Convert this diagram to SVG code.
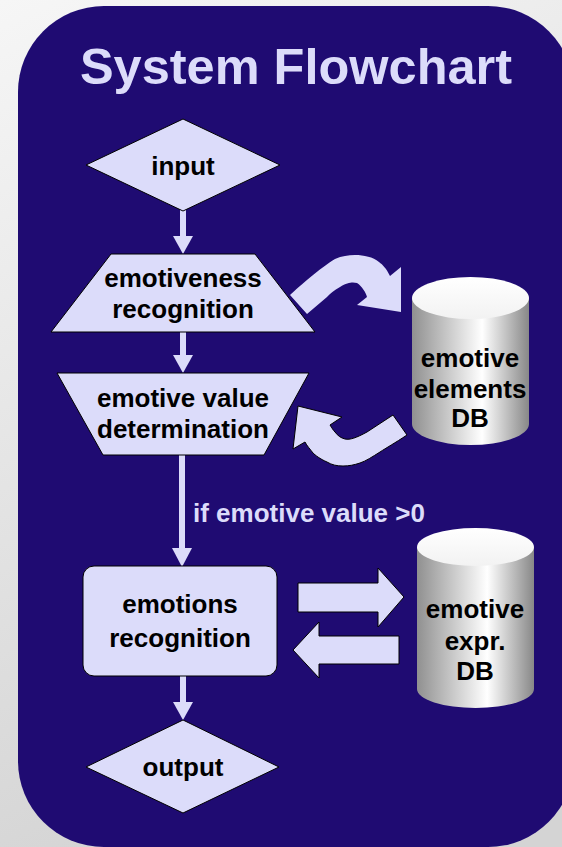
<svg xmlns="http://www.w3.org/2000/svg" width="562" height="847" viewBox="0 0 562 847">
<defs>
<linearGradient id="bg" x1="0" y1="0" x2="0.3" y2="1">
<stop offset="0" stop-color="#f6f6f6"/>
<stop offset="1" stop-color="#d4d4d4"/>
</linearGradient>
<linearGradient id="cyl" x1="0" y1="0" x2="1" y2="0">
<stop offset="0" stop-color="#909090"/>
<stop offset="0.6" stop-color="#ffffff"/>
<stop offset="1" stop-color="#888888"/>
</linearGradient>
<linearGradient id="cap" x1="0" y1="0" x2="0" y2="1">
<stop offset="0" stop-color="#ffffff"/>
<stop offset="1" stop-color="#f2f2f2"/>
</linearGradient>
</defs>
<style>
.shape{fill:#dcdcfa;stroke:#000;stroke-width:1}
.conn{fill:#dcdcfa}
.conno{fill:#dcdcfa;stroke:#000;stroke-width:1}
.t{font-family:"Liberation Sans",Arial,sans-serif;font-weight:bold;font-size:26px;fill:#000;text-anchor:middle}
.lbl{font-family:"Liberation Sans",Arial,sans-serif;font-weight:bold;font-size:26px;fill:#dcdcfa}
.title{font-family:"Liberation Sans",Arial,sans-serif;font-weight:bold;font-size:50.5px;fill:#dcdcfa;text-anchor:middle}
.cylbody{fill:url(#cyl)}
.cylcap{fill:url(#cap)}
</style>
<rect x="0" y="0" width="562" height="847" fill="url(#bg)"/>
<rect x="18" y="6" width="556" height="841" rx="86" ry="86" fill="#1f0b72"/>
<text class="title" x="296" y="84">System Flowchart</text>

<g id="connectors">
<rect class="conn" x="180" y="210" width="6" height="27"/>
<polygon class="conn" points="173,236 193,236 183,254"/>
<rect class="conn" x="180" y="331" width="6" height="25"/>
<polygon class="conn" points="173,355 193,355 183,373"/>
<rect class="conn" x="179" y="454" width="6" height="95"/>
<polygon class="conn" points="172,548 192,548 182,567"/>
<rect class="conn" x="180" y="675" width="6" height="28"/>
<polygon class="conn" points="173,702 193,702 183,720"/>
<text class="lbl" x="193" y="522">if emotive value &gt;0</text>
<path class="conn" d="M290 295 C300 286 320 268 335 259 C342 256 348 255 355 255 C364 255 373 257 379 262 C383 265 386 268 390 276 L401 267 L401 312 L357 305 L367 297 C366 293 362 286 357 283 C353 282 348 282 340 287 C334 290 330 294 327 297 L307 314 Z"/>
<path class="conno" d="M393 415 L407 435 C395 443 386 448 380 452 C372 457 366 461 360 463 C354 465 349 466 343 466 C337 466 332 465 327 462 C320 459 315 455 313 453 C310 449 307 446 305 442 L293 449 L298 406 L342 417 L330 425 C332 428 333 430 335 432 C338 436 341 438 345 439 C350 440 356 438 367 432 Z"/>
<path class="conno" d="M298 583 H378 V568 L404 597 L378 627 V612 H298 Z"/>
<path class="conno" d="M399 636 H319 V622 L293 650 L319 678 V664 H399 Z"/>
</g>

<g id="input">
<polygon class="shape" points="183,119 280,165 183,211 86,165"/>
<text class="t" x="183" y="175">input</text>
</g>
<g id="emotiveness-recognition">
<polygon class="shape" points="111,254 255,254 315,332 51,332"/>
<text class="t" x="183" y="287">emotiveness</text>
<text class="t" x="183" y="318">recognition</text>
</g>
<g id="emotive-value-determination">
<polygon class="shape" points="57,373 309,373 264,455 103,455"/>
<text class="t" x="183" y="407">emotive value</text>
<text class="t" x="183" y="438">determination</text>
</g>
<g id="emotions-recognition">
<rect class="shape" x="83" y="566" width="194" height="110" rx="11" ry="11"/>
<text class="t" x="180" y="613">emotions</text>
<text class="t" x="180" y="647">recognition</text>
</g>
<g id="output">
<polygon class="shape" points="183,720 279,767 183,813 86,767"/>
<text class="t" x="183" y="776">output</text>
</g>
<g id="emotive-elements-db">
<path class="cylbody" d="M412 298 V424 A58.5 21 0 0 0 529 424 V298 Z"/>
<ellipse class="cylcap" cx="470.5" cy="298" rx="58.5" ry="21"/>
<text class="t" x="470" y="367">emotive</text>
<text class="t" x="470" y="398">elements</text>
<text class="t" x="470" y="427">DB</text>
</g>
<g id="emotive-expr-db">
<path class="cylbody" d="M417 547 V689 A58.5 19 0 0 0 534 689 V547 Z"/>
<ellipse class="cylcap" cx="475.5" cy="547" rx="58.5" ry="19"/>
<text class="t" x="475" y="618">emotive</text>
<text class="t" x="475" y="650">expr.</text>
<text class="t" x="475" y="680">DB</text>
</g>
</svg>
